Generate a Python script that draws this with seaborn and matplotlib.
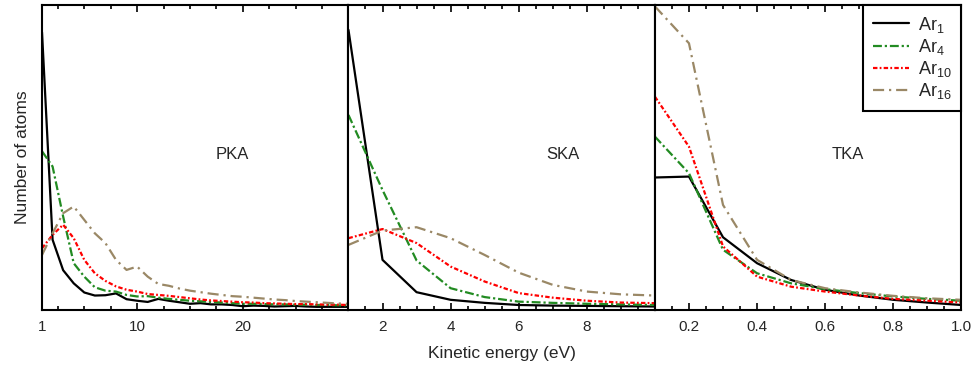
import numpy as np
import pandas as pd
import matplotlib
matplotlib.use("Agg")
import matplotlib.pyplot as plt
import seaborn as sns
from matplotlib.ticker import FixedLocator

sns.set_style("white")
plt.rcParams['font.family'] = ['Liberation Sans', 'DejaVu Sans']
plt.rcParams['mathtext.fontset'] = 'custom'
plt.rcParams['mathtext.rm'] = 'Liberation Sans'
plt.rcParams['mathtext.it'] = 'Liberation Sans'
plt.rcParams['mathtext.default'] = 'regular'

series_names = ["Ar$_1$", "Ar$_4$", "Ar$_{10}$", "Ar$_{16}$"]
panel_labels = ["PKA", "SKA", "TKA"]

# ---- PKA panel (energy 1..30 eV) ----
pka_x = list(range(1, 31))
pka_ar1 = [91, 23, 13, 8.7, 5.7, 4.7, 4.8, 5.4, 3.5, 3.0, 2.6, 3.6, 3.0, 2.5, 2.0,
           2.2, 1.8, 1.8, 1.6, 1.2, 1.4, 1.3, 1.1, 1.2, 1.3, 1.1, 1.0, 1.0, 1.0, 1.0]
pka_ar4 = [52, 47, 30.6, 15.3, 10.9, 7.4, 6.3, 6.0, 4.9, 4.4, 4.5, 4.0, 3.6, 3.3, 3.0,
           2.8, 2.6, 2.4, 2.2, 2.0, 2.0, 1.9, 1.8, 1.8, 1.7, 1.7, 1.6, 1.6, 1.5, 1.5]
pka_ar10 = [20.2, 24.6, 27.9, 23.5, 16.4, 12.0, 9.5, 7.7, 6.6, 6.0, 5.2, 4.9, 4.6, 4.2, 3.8,
            3.4, 3.1, 2.9, 2.7, 2.5, 2.4, 2.2, 2.1, 2.0, 1.9, 1.9, 1.8, 1.7, 1.7, 1.6]
pka_ar16 = [18, 25.1, 31.7, 33.9, 29.5, 25.1, 21.9, 16.4, 13.1, 14.2, 10.9, 8.5, 7.9, 7.0, 6.3,
            5.8, 5.3, 4.9, 4.5, 4.3, 4.0, 3.7, 3.4, 3.2, 2.9, 2.7, 2.5, 2.3, 2.1, 2.0]

# ---- SKA panel (energy 1..10 eV) ----
ska_x = list(range(1, 11))
ska_ar1 = [91.8, 16.4, 5.8, 3.3, 2.3, 1.6, 1.4, 1.3, 1.2, 1.1]
ska_ar4 = [63.9, 39.3, 16.2, 7.1, 4.2, 2.7, 2.3, 2.0, 1.8, 1.6]
ska_ar10 = [23.5, 26.5, 21.9, 14.2, 9.3, 5.5, 4.0, 3.0, 2.4, 2.2]
ska_ar16 = [21.3, 26.0, 27.1, 23.5, 18.0, 12.2, 8.2, 6.0, 5.1, 4.7]

# ---- TKA panel (energy 0.1..1.0 eV) ----
tka_x = [0.1, 0.2, 0.3, 0.4, 0.5, 0.6, 0.7, 0.8, 0.9, 1.0]
tka_ar1 = [43.4, 43.7, 23.8, 15.3, 9.8, 6.6, 4.7, 3.3, 2.4, 1.6]
tka_ar4 = [56.8, 44.8, 19.7, 12.0, 8.7, 6.8, 5.5, 4.4, 3.6, 3.0]
tka_ar10 = [69.9, 53.5, 20.8, 10.9, 7.6, 6.0, 4.7, 3.6, 3.0, 2.4]
tka_ar16 = [99.5, 87.4, 34.4, 16.4, 9.8, 7.1, 5.7, 4.6, 3.8, 3.3]

panels = [
    (pka_x, [pka_ar1, pka_ar4, pka_ar10, pka_ar16]),
    (ska_x, [ska_ar1, ska_ar4, ska_ar10, ska_ar16]),
    (tka_x, [tka_ar1, tka_ar4, tka_ar10, tka_ar16]),
]

palette = {series_names[0]: "#000000", series_names[1]: "#228b22",
           series_names[2]: "#ff0000", series_names[3]: "#9a8866"}
dashes = {series_names[0]: "", series_names[1]: (4, 1.3, 1, 1.3),
          series_names[2]: (2.0, 1.0, 0.8, 1.0), series_names[3]: (5, 2.2, 1, 2.2)}

fig, axes = plt.subplots(1, 3, figsize=(9.77, 3.72), dpi=100)
fig.subplots_adjust(left=0.043, right=0.984, bottom=0.167, top=0.987, wspace=0)

xlims = [(1, 30), (1, 10), (0.1, 1.0)]
majors = [[1, 10, 20], [2, 4, 6, 8], [0.2, 0.4, 0.6, 0.8, 1.0]]
major_labels = [["1", "10", "20"], ["2", "4", "6", "8"], ["0.2", "0.4", "0.6", "0.8", "1.0"]]
minor_steps = [2.5, 0.5, 0.05]
label_pos = [(0.62, 0.51), (0.70, 0.51), (0.63, 0.51)]

for i, (ax, (xs, ys_list)) in enumerate(zip(axes, panels)):
    rows = []
    for name, ys in zip(series_names, ys_list):
        for xv, yv in zip(xs, ys):
            rows.append({"energy": xv, "count": yv, "cluster": name})
    df = pd.DataFrame(rows)
    sns.lineplot(data=df, x="energy", y="count", hue="cluster", style="cluster",
                 palette=palette, dashes=dashes, hue_order=series_names,
                 style_order=series_names, linewidth=1.6, ax=ax,
                 legend=(i == 2), sort=False)
    ax.set_xlim(*xlims[i])
    ax.set_ylim(0, 100)
    ax.set_yticks([])
    ax.set_ylabel("")
    ax.set_xlabel("")
    ax.set_xticks(majors[i])
    ax.set_xticklabels(major_labels[i])
    lo, hi = xlims[i]
    mins = np.arange(lo, hi + 1e-9, minor_steps[i])
    if i == 0:
        mins = np.arange(2.5, 30, 2.5)
    ax.xaxis.set_minor_locator(FixedLocator(mins))
    ax.tick_params(axis="x", which="major", direction="in", top=True, bottom=True,
                   length=5, width=1.2, labelsize=11, pad=7, color="black")
    ax.tick_params(axis="x", which="minor", direction="in", top=True, bottom=True,
                   length=3, width=1.2, color="black")
    for sp in ax.spines.values():
        sp.set_visible(True)
        sp.set_color("black")
        sp.set_linewidth(1.5)
    ax.text(label_pos[i][0], label_pos[i][1], panel_labels[i], transform=ax.transAxes,
            ha="center", va="center", fontsize=12)

axes[0].set_ylabel("Number of atoms", fontsize=12.5, labelpad=9)
axes[1].set_xlabel("Kinetic energy (eV)", fontsize=12.5, labelpad=9)

leg = axes[2].get_legend()
handles, labels = axes[2].get_legend_handles_labels()
leg.remove()
leg = axes[2].legend(handles, labels, loc="upper right", borderaxespad=0,
                     fontsize=13, frameon=True, fancybox=False, framealpha=1,
                     edgecolor="black", handlelength=2.0, handletextpad=0.5,
                     labelspacing=0.12, borderpad=0.55)
leg.get_frame().set_linewidth(1.5)
for h in leg.get_lines():
    h.set_linewidth(1.6)

fig.savefig("out.png", dpi=100)
